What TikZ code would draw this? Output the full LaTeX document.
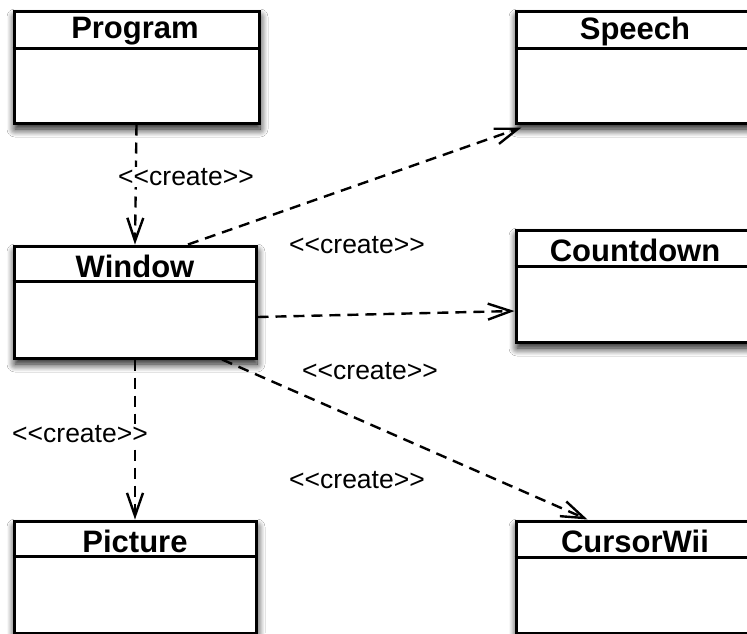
\documentclass[tikz,border=0pt]{standalone}
\usepackage{fontspec}
\setmainfont{Liberation Sans}
\usetikzlibrary{arrows.meta,shadows.blur}
\begin{document}
\begin{tikzpicture}[x=1pt,y=-1pt,
  classbox/.style={draw=black,line width=3pt,fill=white,minimum width=245pt,minimum height=112pt,inner sep=0pt,
    blur shadow={shadow xshift=1pt,shadow yshift=-6pt,shadow blur radius=8pt,shadow blur steps=10,shadow opacity=95}},
  title/.style={font=\fontsize{31}{31}\selectfont\bfseries,anchor=center,inner sep=0pt},
  lbl/.style={font=\fontsize{26.5}{26.5}\selectfont,inner sep=1pt,fill=white},
  dep/.style={draw=black,line width=2.4pt,dash pattern=on 11pt off 7pt,-{Straight Barb[length=23pt,width=16pt,line width=2.4pt]}}]
\useasboundingbox (0,0) rectangle (747,633);
\fill[white] (0,0) rectangle (747,633);
\clip (0,0) rectangle (747,633);
% classes
\node[classbox,minimum width=245pt] (program) at (136.5,67) {};
\node[classbox,minimum width=242pt] (window) at (135,302) {};
\node[classbox] (speech) at (638.5,67) {};
\node[classbox] (countdown) at (638.5,286) {};
\node[classbox,minimum width=242pt] (picture) at (135,577) {};
\node[classbox] (cursor) at (638.5,577) {};
% dividers
\foreach \n/\d in {program/39,window/37,speech/39,countdown/38,picture/37,cursor/38}{
  \draw[line width=3pt] ([yshift=-\d pt]\n.north west) -- ([yshift=-\d pt]\n.north east);
}
% titles
\node[title] (tprogram) at (135,31) {Program};
\node[title] (twindow) at (135,266) {Window};
\node[title] (tspeech) at (635,31) {Speech};
\node[title] (tcountdown) at (635,250) {Countdown};
\node[title] (tpicture) at (135,541) {Picture};
\node[title] (tcursor) at (635,541) {CursorWii};
% connectors
\draw[dep] (program.south) -- (window.north);
\draw[dep] ([xshift=53pt]window.north) -- ([xshift=7pt,yshift=-3pt]speech.south west);
\draw[dep] ([yshift=-15pt]window.east) -- ([yshift=-25pt]countdown.west);
\draw[dep] (window.south) -- (picture.north);
\draw[dep] ([xshift=87pt]window.south) -- ([xshift=73pt]cursor.north west);
% labels
\node[lbl] (l1) at (186,177) {<{}<create>{}>};
\node[lbl] (l2) at (357,245) {<{}<create>{}>};
\node[lbl] (l3) at (370,371) {<{}<create>{}>};
\node[lbl] (l4) at (80,434) {<{}<create>{}>};
\node[lbl] (l5) at (357,480) {<{}<create>{}>};
\end{tikzpicture}
\end{document}
